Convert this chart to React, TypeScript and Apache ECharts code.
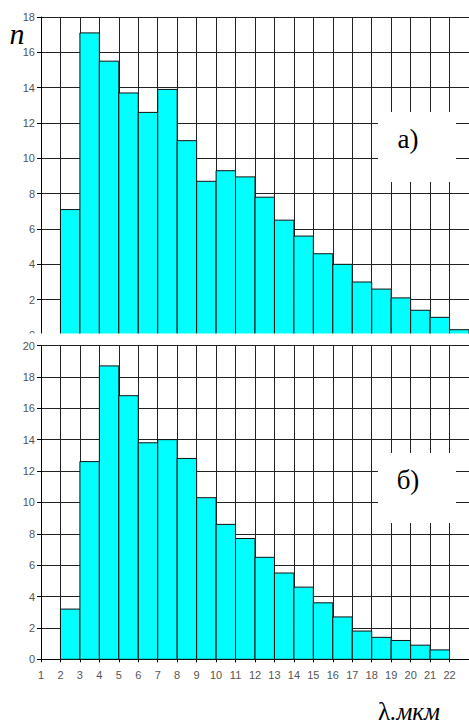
import React, { useEffect, useRef } from "react";
import * as echarts from "echarts";

const topBinStarts = [2, 3, 4, 5, 6, 7, 8, 9, 10, 11, 12, 13, 14, 15, 16, 17, 18, 19, 20, 21, 22];
const topCounts = [7.1, 17.1, 15.5, 13.7, 12.6, 13.9, 11.0, 8.7, 9.3, 8.95, 7.8, 6.5, 5.6, 4.6, 4.0, 3.0, 2.6, 2.1, 1.4, 1.0, 0.3];
const bottomBinStarts = [2, 3, 4, 5, 6, 7, 8, 9, 10, 11, 12, 13, 14, 15, 16, 17, 18, 19, 20, 21];
const bottomCounts = [3.2, 12.6, 18.7, 16.8, 13.8, 14.0, 12.8, 10.3, 8.6, 7.7, 6.5, 5.5, 4.6, 3.6, 2.7, 1.8, 1.4, 1.2, 0.9, 0.6];
const binWidth = 1;
const topLabel = "а)";
const bottomLabel = "б)";
const yName = "n";
const xNameSymbol = "λ";
const xNameUnit = ".мкм";

const GRID = "#222";
const LABEL = "#555";

function renderBar(params: any, api: any) {
  const s = api.coord([api.value(0), api.value(2)]);
  const e = api.coord([api.value(1), 0]);
  return {
    type: "rect",
    shape: { x: s[0], y: s[1], width: e[0] - s[0], height: e[1] - s[1] },
    style: { fill: "#00FFFF", stroke: "#111", lineWidth: 1 },
  };
}

export default function App() {
  const ref = useRef<HTMLDivElement>(null);
  useEffect(() => {
    if (!ref.current) return;
    const chart = echarts.init(ref.current, undefined, { renderer: "svg" });
    const xBase = {
      type: "value",
      min: 1,
      max: 23,
      interval: 1,
      axisLine: { show: true, lineStyle: { color: "#000", width: 1 } },
      splitLine: { show: true, lineStyle: { color: GRID, width: 1 } },
    };
    const yBase = {
      type: "value",
      min: 0,
      interval: 2,
      axisLine: { show: true, lineStyle: { color: "#000", width: 1 } },
      axisTick: { show: true, length: 4, lineStyle: { color: "#000" } },
      axisLabel: { color: LABEL, fontSize: 11, fontFamily: "Liberation Sans", margin: 6 },
      splitLine: { show: true, lineStyle: { color: GRID, width: 1 } },
    };
    chart.setOption({
      animation: false,
      backgroundColor: "#fff",
      grid: [
        { left: 41, right: -3.6, top: 17, height: 318 },
        { left: 41, right: -3.6, top: 345.5, height: 313.8 },
      ],
      xAxis: [
        { ...xBase, gridIndex: 0, axisLabel: { show: false }, axisTick: { show: false } },
        {
          ...xBase,
          gridIndex: 1,
          axisTick: { show: true, length: 3, lineStyle: { color: "#000" } },
          axisLabel: {
            color: LABEL,
            fontSize: 11,
            fontFamily: "Liberation Sans",
            margin: 10,
            showMaxLabel: false,
          },
        },
      ],
      yAxis: [
        { ...yBase, gridIndex: 0, max: 18 },
        { ...yBase, gridIndex: 1, max: 20 },
      ],
      series: [
        {
          type: "custom",
          xAxisIndex: 0,
          yAxisIndex: 0,
          renderItem: renderBar,
          encode: { x: [0, 1], y: 2 },
          data: topBinStarts.map((s, i) => [s, s + binWidth, topCounts[i]]),
        },
        {
          type: "custom",
          xAxisIndex: 1,
          yAxisIndex: 1,
          renderItem: renderBar,
          encode: { x: [0, 1], y: 2 },
          data: bottomBinStarts.map((s, i) => [s, s + binWidth, bottomCounts[i]]),
        },
      ],
      graphic: [
        { type: "rect", z: 100, shape: { x: 0, y: 333.5, width: 469, height: 7 }, style: { fill: "#fff" } },
        { type: "rect", z: 100, shape: { x: 378, y: 112, width: 78, height: 70 }, style: { fill: "#fff" } },
        { type: "rect", z: 100, shape: { x: 378, y: 453, width: 78, height: 70 }, style: { fill: "#fff" } },
        {
          type: "text",
          z: 101,
          style: {
            x: 408,
            y: 139,
            text: topLabel,
            font: "27px 'Liberation Serif'",
            fill: "#000",
            align: "center",
            verticalAlign: "middle",
          },
        },
        {
          type: "text",
          z: 101,
          style: {
            x: 408,
            y: 480,
            text: bottomLabel,
            font: "27px 'Liberation Serif'",
            fill: "#000",
            align: "center",
            verticalAlign: "middle",
          },
        },
        {
          type: "text",
          z: 101,
          style: {
            x: 17,
            y: 33,
            text: yName,
            font: "italic 30px 'Liberation Serif'",
            fill: "#000",
            align: "center",
            verticalAlign: "middle",
          },
        },
        {
          type: "text",
          z: 101,
          style: {
            x: 409,
            y: 711,
            text: "{a|" + xNameSymbol + "}{b|" + xNameUnit + "}",
            fill: "#000",
            align: "center",
            verticalAlign: "middle",
            rich: {
              a: { fontFamily: "Liberation Serif", fontSize: 25, lineHeight: 26, fill: "#000" },
              b: { fontFamily: "Liberation Serif", fontStyle: "italic", fontSize: 25, lineHeight: 26, fill: "#000" },
            },
          },
        },
      ],
    });
    return () => chart.dispose();
  }, []);
  return (
    <div
      ref={ref}
      style={{ position: "absolute", left: 0, top: 0, width: 469, height: 726 }}
    />
  );
}
